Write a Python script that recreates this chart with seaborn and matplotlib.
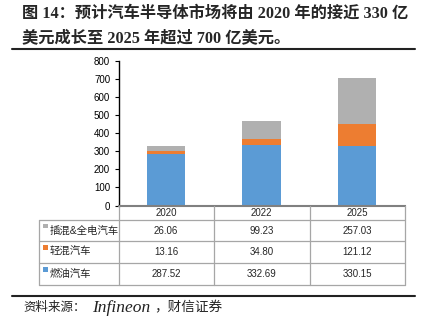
import matplotlib
matplotlib.use("Agg")
import matplotlib.pyplot as plt
import seaborn as sns
import numpy as np
import pandas as pd
from matplotlib.lines import Line2D
from matplotlib.patches import Rectangle

# ---- data ----
years = ["2020", "2022", "2025"]
series_names = ["插混&全电汽车", "轻混汽车", "燃油汽车"]
phev_bev = [26.06, 99.23, 257.03]
mild_hybrid = [13.16, 34.80, 121.12]
ice = [287.52, 332.69, 330.15]
colors = {"燃油汽车": "#5B9BD5", "轻混汽车": "#ED7D31", "插混&全电汽车": "#B0B0B0"}
yticks = [0, 100, 200, 300, 400, 500, 600, 700, 800]
title_lines = ["图 14：预计汽车半导体市场将由 2020 年的接近 330 亿",
               "美元成长至 2025 年超过 700 亿美元。"]
source_parts = ["资料来源：", "Infineon", "，财信证券"]

sns.set_theme(style="white")
plt.rcParams['font.family'] = ['Liberation Sans', 'Noto Sans CJK SC', 'DejaVu Sans']

W, H = 422, 323
fig = plt.figure(figsize=(W / 100, H / 100), dpi=100)
fig.patch.set_facecolor("white")

def fx(x):
    return x / W

def fy(y):
    return 1 - y / H

# axes box in pixels
ax_l, ax_r, ax_t, ax_b = 118.5, 404.5, 61, 205.5
ax = fig.add_axes([fx(ax_l), fy(ax_b), fx(ax_r) - fx(ax_l), fy(ax_t) - fy(ax_b)])

df = pd.DataFrame({"year": years, "ice": ice, "mild": mild_hybrid, "phev": phev_bev})
bottom_mild = np.array(ice)
bottom_phev = np.array(ice) + np.array(mild_hybrid)

sns.barplot(data=df, x="year", y="ice", color=colors["燃油汽车"], width=0.4,
            saturation=1, ax=ax, linewidth=0)
sns.barplot(data=df, x="year", y="mild", color=colors["轻混汽车"], width=0.4,
            saturation=1, ax=ax, bottom=bottom_mild, linewidth=0)
sns.barplot(data=df, x="year", y="phev", color=colors["插混&全电汽车"], width=0.4,
            saturation=1, ax=ax, bottom=bottom_phev, linewidth=0)

ax.set_xlim(-0.5, 2.5)
ax.set_ylim(0, 800)
ax.set_yticks(yticks)
ax.set_yticklabels([str(t) for t in yticks], fontsize=7, color="#000000")
ax.set_xticks([])
ax.set_xlabel("")
ax.set_ylabel("")
for s in ["top", "right"]:
    ax.spines[s].set_visible(False)
ax.spines["left"].set_color("#000000")
ax.spines["left"].set_linewidth(1.0)
ax.spines["bottom"].set_color("#808080")
ax.spines["bottom"].set_linewidth(1.5)
ax.tick_params(axis="y", direction="out", length=3, width=0.8, color="#000000", pad=3, left=True)
ax.patch.set_alpha(0)

# ---- table below the axes ----
grid_c = "#A6A6A6"
col_x = [38.5, 118.5, 214, 309.5, 404.5]
row_y = [205.5, 219.5, 241, 262.5, 285]

def hline(y, x0, x1, c=grid_c, lw=0.9):
    fig.add_artist(Line2D([fx(x0), fx(x1)], [fy(y), fy(y)], color=c, lw=lw))

def vline(x, y0, y1, c=grid_c, lw=0.9):
    fig.add_artist(Line2D([fx(x), fx(x)], [fy(y0), fy(y1)], color=c, lw=lw))

for y in row_y[1:]:
    hline(y, col_x[0], col_x[-1])
vline(col_x[0], row_y[1], row_y[-1])
for x in col_x[1:]:
    vline(x, row_y[0], row_y[-1])

for i, yr in enumerate(years):
    cx = (col_x[i + 1] + col_x[i + 2]) / 2
    fig.text(fx(cx), fy((row_y[0] + row_y[1]) / 2 + 0.5), yr, ha="center", va="center", fontsize=7)

rows = [("插混&全电汽车", phev_bev), ("轻混汽车", mild_hybrid), ("燃油汽车", ice)]
for r, (name, vals) in enumerate(rows):
    cy = (row_y[r + 1] + row_y[r + 2]) / 2
    fig.add_artist(Rectangle((fx(43), fy(cy - 2)), fx(4.5), 4.5 / H,
                             facecolor=colors[name], edgecolor="none"))
    fig.text(fx(50), fy(cy + 0.5), name, ha="left", va="center", fontsize=7.5)
    for i, v in enumerate(vals):
        cx = (col_x[i + 1] + col_x[i + 2]) / 2
        fig.text(fx(cx), fy(cy + 0.5), f"{v:.2f}", ha="center", va="center", fontsize=7)

# ---- title, rules, source ----
title_font = ['Liberation Serif', 'Noto Sans CJK SC']
fig.text(fx(22), fy(14), title_lines[0], ha="left", va="center", fontsize=11.7,
         fontweight="bold", family=title_font)
fig.text(fx(22), fy(38), title_lines[1], ha="left", va="center", fontsize=11.7,
         fontweight="bold", family=title_font)
hline(48.5, 12, 415, c="#222222", lw=1.5)
hline(296, 12, 415, c="#222222", lw=1.5)
src_font = ['Liberation Serif', 'Noto Sans CJK SC']
fig.text(fx(23), fy(308), source_parts[0], ha="left", va="center", fontsize=9,
         family=src_font, color="#222222")
fig.text(fx(92), fy(308), source_parts[1], ha="left", va="center", fontsize=12.5,
         style="italic", family=src_font, color="#222222")
fig.text(fx(154), fy(308), source_parts[2], ha="left", va="center", fontsize=9.8,
         family=src_font, color="#222222")

fig.savefig("out.png", dpi=100, facecolor="white")
